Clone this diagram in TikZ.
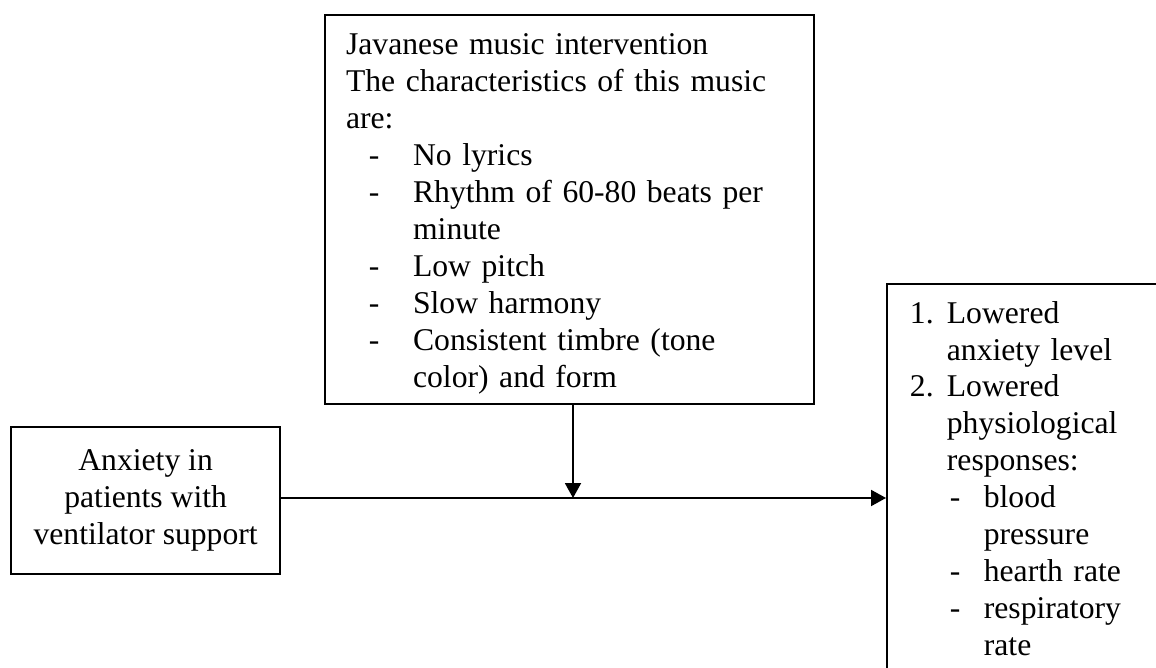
\documentclass[tikz,border=0pt]{standalone}
\usepackage{fontspec}
\setmainfont{Liberation Serif}
\usetikzlibrary{arrows.meta}

% list lines as they are set in the boxes
\newcommand{\dashln}[1]{\hspace*{8.6pt}\makebox[16.6pt][l]{-}#1}
\newcommand{\dashcn}[1]{\hspace*{25.2pt}#1}
\newcommand{\numln}[2]{\makebox[13.9pt][l]{#1}#2}
\newcommand{\numcn}[1]{\hspace*{13.9pt}#1}
\newcommand{\subln}[1]{\hspace*{15pt}\makebox[12.8pt][l]{-}#1}
\newcommand{\subcn}[1]{\hspace*{27.8pt}#1}

\begin{document}
\begin{tikzpicture}[x=0.376pt, y=-0.376pt,
  box/.style={draw, line width=0.8pt, font=\fontsize{11.9pt}{13.9pt}\selectfont},
  arr/.style={line width=0.7pt, -{Triangle[length=5.6pt,width=6pt]}}]
\useasboundingbox (0,0) rectangle (1156,668);
\clip (0,0) rectangle (1156,668);

\node[box, anchor=north west, text width=168.1pt, inner xsep=7.9pt,
      minimum height=146.3pt, text height=11pt, align=left] (music) at (324,14)
  {Javanese music intervention\\
   The characteristics of this music\\
   are:\\
   \dashln{No lyrics}\\
   \dashln{\makebox[142.9pt][s]{Rhythm of 60-80 beats per}}\\
   \dashcn{minute}\\
   \dashln{Low pitch}\\
   \dashln{Slow harmony}\\
   \dashln{Consistent timbre (tone}\\
   \dashcn{color) and form}};

\node[box, anchor=north west, minimum width=101.2pt, minimum height=55.3pt,
      align=center] (anxiety) at (10,426)
  {Anxiety in\\patients with\\ventilator support};

\node[box, anchor=north west, text width=120pt, inner xsep=8.6pt,
      inner ysep=6.4pt, text depth=160pt, align=left] (relief) at (886,283)
  {\numln{1.}{Lowered}\\
   \numcn{anxiety level}\\
   \numln{2.}{Lowered}\\
   \numcn{physiological}\\
   \numcn{responses:}\\
   \subln{blood}\\
   \subcn{pressure}\\
   \subln{hearth rate}\\
   \subln{respiratory}\\
   \subcn{rate}};

\coordinate (meet) at (573,498);
\draw[arr] (anxiety.east |- meet) -- (relief.west |- meet);
\draw[arr] (music.south -| meet) -- (meet);
\end{tikzpicture}
\end{document}
